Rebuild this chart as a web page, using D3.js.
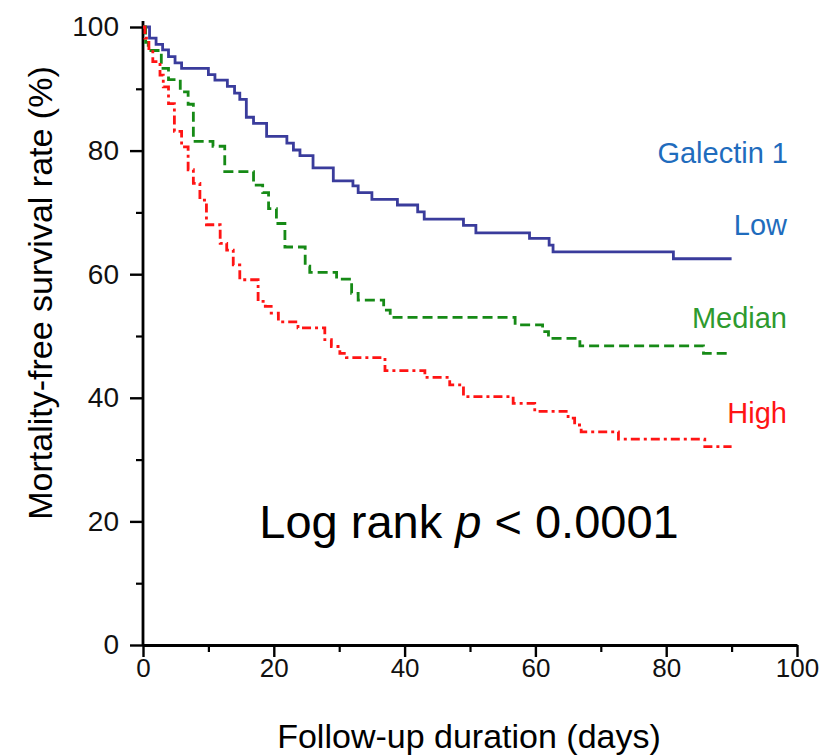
<!DOCTYPE html>
<html>
<head>
<meta charset="utf-8">
<script src="https://cdn.jsdelivr.net/npm/d3@7"></script>
<style>
  body { margin: 0; background: #fff; }
  text { font-family: "Liberation Sans", Arial, sans-serif; }
</style>
</head>
<body>
<div id="chart"></div>
<script>
// Kaplan-Meier step data: [day, survival %]
var lowSteps = [[0,100],[1,98.2],[2,97.2],[3,96.3],[3.9,95.2],[4.9,94.2],[5.9,93.3],[10,92.3],[11,91.4],
  [12.9,90.4],[14,89.3],[14.8,88.3],[15.8,85.4],[16.9,84.4],[18.9,82.3],[22,81.2],[23,80.1],[24,79.2],
  [26,77.2],[29.1,75.1],[32.1,74.3],[32.9,73.2],[35,72.1],[38.9,71.2],[42,70.1],[43,68.9],[49,67.9],
  [50.9,66.7],[59.1,65.8],[62.1,64.7],[62.7,63.6],[81.1,62.5],[90,62.5]];

var medianSteps = [[0,100],[0.4,97.5],[0.8,96.2],[2.8,93.3],[3.9,91.5],[5.7,89.5],[6.9,87.5],[7.7,81.5],
  [10.7,80.7],[12.5,76.6],[16.9,74.4],[18.3,73.2],[19.2,70.6],[20.4,68.2],[21.7,64.4],[24.8,61.3],
  [25.5,60.3],[29.6,59.2],[31.9,56.9],[32.9,55.8],[36.8,54.2],[37.8,53.0],[56.9,51.8],[61.1,50.7],
  [62,49.6],[66.8,48.4],[85.7,47.2],[90,47.2]];

var highSteps = [[0,100],[0.3,98.2],[0.9,96.5],[1.5,94.4],[2.6,92.2],[3.1,90.3],[3.9,87.6],[4.8,83.1],
  [5.9,80.6],[6.9,76.9],[7.7,74.7],[8.7,72.0],[9.7,68.0],[11.8,65.0],[12.8,63.9],[13.8,61.5],[14.8,59.1],
  [17.6,55.6],[18.7,54.8],[19.6,53.7],[20.7,52.3],[23.7,51.3],[27.8,49.4],[28.8,48.3],[30.1,47.2],
  [31.1,46.5],[37,44.4],[43.1,43.3],[46.9,42.1],[49,40.2],[56.6,39.1],[59.9,37.8],[65,36.7],[66,35.6],
  [67,34.5],[72.7,33.3],[85.9,32.1],[90,32.1]];

var groupNames = ["Low", "Median", "High"];
var xTicks = [0, 20, 40, 60, 80, 100];
var yTicks = [0, 20, 40, 60, 80, 100];

var W = 823, H = 755;
var margin = {top: 27, right: 26, bottom: 110, left: 143};
var width = W - margin.left - margin.right;
var height = H - margin.top - margin.bottom;

var svg = d3.select("#chart").append("svg")
    .attr("width", W)
    .attr("height", H);

var g = svg.append("g")
    .attr("transform", "translate(" + margin.left + "," + margin.top + ")");

var x = d3.scaleLinear().domain([0, 100]).range([0, width]);
var y = d3.scaleLinear().domain([0, 100]).range([height, 0]);

// minor ticks (every 10) drawn first, shorter
var xMinor = d3.range(10, 100, 20);
var yMinor = d3.range(10, 100, 20);

g.append("g")
    .attr("transform", "translate(0," + height + ")")
    .call(d3.axisBottom(x).tickValues(xMinor).tickSize(7).tickFormat(""))
    .call(function(a) { a.select(".domain").remove(); })
    .selectAll("line").attr("stroke-width", 2.2);

g.append("g")
    .call(d3.axisLeft(y).tickValues(yMinor).tickSize(7).tickFormat(""))
    .call(function(a) { a.select(".domain").remove(); })
    .selectAll("line").attr("stroke-width", 2.2);

var xAxis = g.append("g")
    .attr("transform", "translate(0," + height + ")")
    .call(d3.axisBottom(x).tickValues(xTicks).tickSize(12).tickSizeOuter(0).tickPadding(2));

var yAxis = g.append("g")
    .call(d3.axisLeft(y).tickValues(yTicks).tickSize(13).tickSizeOuter(0).tickPadding(11));

[xAxis, yAxis].forEach(function(a) {
  a.select(".domain").attr("stroke-width", 2.8);
  a.selectAll(".tick line").attr("stroke-width", 2.4);
  a.selectAll(".tick text").attr("fill", "#111");
});
xAxis.selectAll(".tick text").style("font-size", "26px");
yAxis.selectAll(".tick text").style("font-size", "28px");

// y axis reaches a little above 100
yAxis.select(".domain").attr("d", "M0," + height + "V-6");

// curves
var line = d3.line()
    .curve(d3.curveStepAfter)
    .x(function(d) { return x(d[0]); })
    .y(function(d) { return y(d[1]); });

var series = [
  {name: groupNames[0], data: lowSteps, color: "#3a3c9c", dash: null},
  {name: groupNames[1], data: medianSteps, color: "#168a16", dash: "10,5"},
  {name: groupNames[2], data: highSteps, color: "#ff1414", dash: "9,4,3,4"}
];

g.selectAll("path.km")
    .data(series)
  .enter().append("path")
    .attr("class", "km")
    .attr("fill", "none")
    .attr("stroke", function(d) { return d.color; })
    .attr("stroke-width", 2.8)
    .attr("stroke-dasharray", function(d) { return d.dash; })
    .attr("d", function(d) { return line(d.data); });

// labels on the right
var labelX = 787;
svg.append("text")
    .attr("x", labelX + 1).attr("y", 163)
    .attr("text-anchor", "end")
    .attr("fill", "#1f6cbd")
    .style("font-size", "29px")
    .text("Galectin 1");

var labelY = [235, 328, 423];
var labelColors = ["#1f6cbd", "#2e9a2e", "#ff1414"];
svg.selectAll("text.grp")
    .data(groupNames)
  .enter().append("text")
    .attr("class", "grp")
    .attr("x", labelX)
    .attr("y", function(d, i) { return labelY[i]; })
    .attr("text-anchor", "end")
    .attr("fill", function(d, i) { return labelColors[i]; })
    .style("font-size", "29px")
    .text(function(d) { return d; });

// log rank annotation
var lr = svg.append("text")
    .attr("x", 469).attr("y", 538)
    .attr("text-anchor", "middle")
    .attr("fill", "#000")
    .style("font-size", "47px");
lr.append("tspan").text("Log rank ");
lr.append("tspan").style("font-style", "italic").text("p");
lr.append("tspan").text(" < 0.0001");

// axis titles
svg.append("text")
    .attr("x", 469).attr("y", 748)
    .attr("text-anchor", "middle")
    .attr("fill", "#000")
    .style("font-size", "34px")
    .text("Follow-up duration (days)");

svg.append("text")
    .attr("transform", "translate(52,293) rotate(-90)")
    .attr("text-anchor", "middle")
    .attr("fill", "#000")
    .style("font-size", "34px")
    .text("Mortality-free survival rate (%)");
</script>
</body>
</html>
